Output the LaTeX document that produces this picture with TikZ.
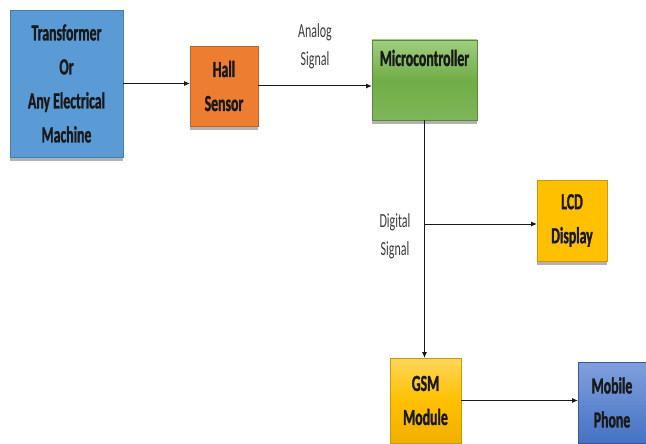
\documentclass[tikz,border=0pt]{standalone}
\usepackage{fontspec}
\setmainfont{Carlito}[FakeStretch=0.6,BoldFeatures={FakeBold=1.2}]
\usetikzlibrary{arrows.meta,positioning,calc,shadows}
\definecolor{machineblue}{RGB}{91,155,213}
\definecolor{sensororange}{RGB}{237,125,49}
\definecolor{mcugreen}{RGB}{112,173,71}
\definecolor{mcugreenlight}{RGB}{160,206,128}
\definecolor{lcdgold}{RGB}{255,192,0}
\definecolor{gsmgoldlight}{RGB}{255,214,90}
\definecolor{gsmgolddark}{RGB}{240,176,0}
\definecolor{phoneblue}{RGB}{68,114,196}
\definecolor{phonebluelight}{RGB}{128,160,220}
\definecolor{ink}{RGB}{25,25,25}
\tikzset{
	flow/.style={-{Latex[length=6pt,width=5pt]},line width=1pt,draw=ink},
	block/.style={draw=#1!80!black,line width=0.5pt,fill=#1,align=center,
		inner sep=2pt,outer sep=0pt,text=ink,
		font={\fontsize{23}{34}\selectfont\bfseries},
		drop shadow={shadow xshift=0pt,shadow yshift=-4pt,fill=black!55,opacity=0.55}},
	note/.style={align=center,text=ink!85,font={\fontsize{20}{28}\selectfont}},
}

\begin{document}
\begin{tikzpicture}[x=1pt,y=-1pt]
		\useasboundingbox (0,0) rectangle (646,444);
		
		\node[block=machineblue,minimum width=113pt,minimum height=147pt]
		(machine) at (66.5,83.5) {Transformer\\Or\\Any Electrical\\Machine};
		
		\node[block=sensororange,minimum width=68pt,minimum height=80pt]
		(hall) at (224,86) {Hall\\Sensor};
		
		\node[block=mcugreen,top color=mcugreenlight,bottom color=mcugreen!90,
		middle color=mcugreen,minimum width=105pt,minimum height=80pt]
		(mcu) at (424.5,80) {Microcontroller\\\strut};
		
		\node[block=lcdgold,minimum width=70pt,minimum height=81pt]
		(lcd) at (572,220.5) {LCD\\Display};
		
		\node[block=lcdgold,top color=gsmgoldlight,bottom color=gsmgolddark,
		middle color=lcdgold,minimum width=71pt,minimum height=85pt]
		(gsm) at (425.5,400.5) {GSM\\Module};
		
		\node[block=phoneblue,top color=phonebluelight,bottom color=phoneblue,
		minimum width=68pt,minimum height=81pt]
		(phone) at (612,402.5) {Mobile\\Phone};
		
		% signal labels beside the wires
		\node[note] (analog) at (315,46) {Analog\\Signal};
		\node[note] (digital) at (395,236) {Digital\\Signal};
		
		\coordinate (tap) at ($(mcu.south)+(0,104)$);
		
		\draw[flow] (machine.east) -- (machine.east -| hall.west);
		\draw[flow] (hall.east) -- (hall.east -| mcu.west);
		\draw[flow] (mcu.south) -- (mcu.south |- gsm.north);
		\draw[flow] (tap) -- (tap -| lcd.west);
		\draw[flow] (gsm.east) -- (gsm.east -| phone.west);
		
	\end{tikzpicture}
\end{document}
